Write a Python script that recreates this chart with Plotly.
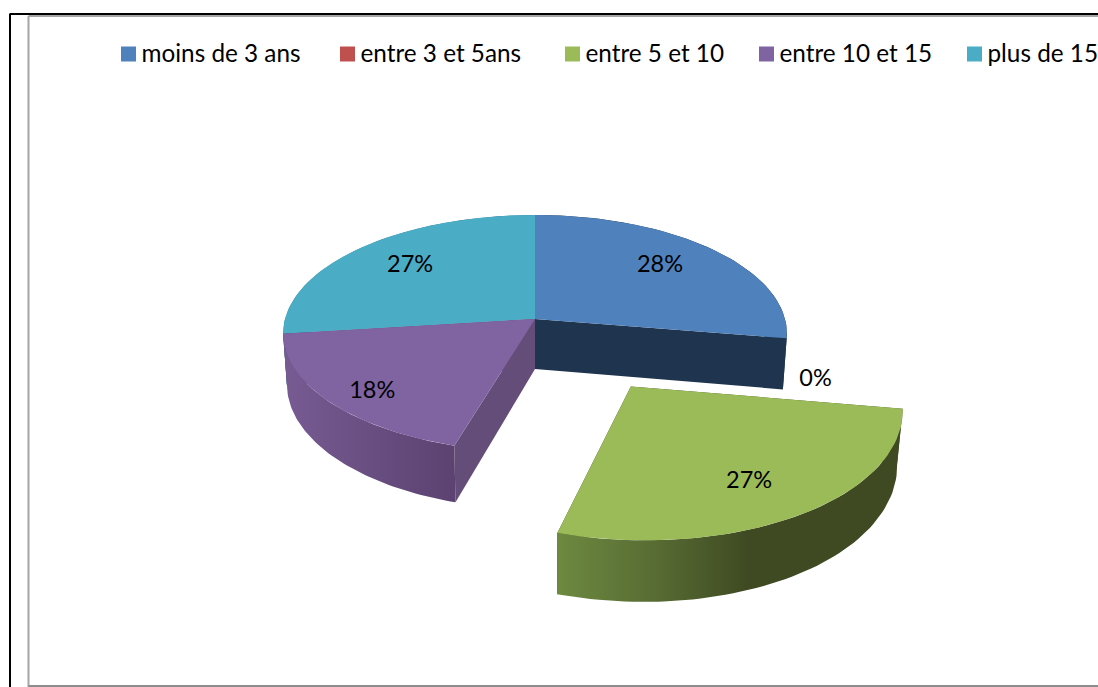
import math

import plotly.graph_objects as go

categories = ['moins de 3 ans', 'entre 3 et 5ans', 'entre 5 et 10', 'entre 10 et 15', 'plus de 15']
values = [27.6, 0, 27, 18.4, 27]

top_colors = ['#4f81bd', '#c0504d', '#9bbb59', '#8064a2', '#4bacc6']
cut_colors = ['#1f344e', '#7a2f2d', '#3f4a22', '#654d7a', '#2f7f96']
wall_scales = [
    [[0, '#1f344e'], [1, '#1f344e']],
    [[0, '#7a2f2d'], [1, '#7a2f2d']],
    [[0, '#6d8a40'], [0.3, '#566a32'], [0.55, '#3f4a22'], [1, '#3f4a22']],
    [[0, '#775b93'], [1, '#5b4270']],
    [[0, '#2f7f96'], [1, '#2f7f96']],
]
explode = [0, 0, 0.648, 0, 0]
explode_tilt = math.radians(-1.5)
draw_order = [0, 4, 3, 2]

# label placement: fraction of the radius, extra shift in px
label_radius = [0.68, 1.12, 0.78, 0.8, 0.68]
label_shift_x = [2, -2, -12, 0, -4]
label_shift_y = [-4, 39, -1, 9, -3]

# legend row
legend_x = [128.5, 347.5, 572.5, 766.5, 974.5]
legend_y = 54
legend_text_dx = 13
legend_text_dy = 2

# pie projection
CX, CY = 535, 319
RX, RY = 250, 116.7
PERSP = 0.122
DEPTH = 50
BOTTOM_SCALE = 0.985
WIDTH, HEIGHT = 1098, 687
FONT = 'Lato, Carlito, Calibri, sans-serif'


def project(theta, r=1.0, off=(0.0, 0.0), depth=0.0, scale=1.0):
    px = r * math.sin(theta) + off[0]
    py = r * math.cos(theta) + off[1]
    w = 1 + PERSP * py
    return CX + RX * scale * px / w, CY - RY * py / w + depth / w


def arc(start, end, off, depth=0.0, scale=1.0):
    steps = 60
    pts = [project(start + (end - start) * i / steps, 1.0, off, depth, scale) for i in range(steps + 1)]
    return [p[0] for p in pts], [p[1] for p in pts]


def polygon(xs, ys, **kwargs):
    xs = list(xs) + [xs[0]]
    ys = list(ys) + [ys[0]]
    return go.Scatter(x=xs, y=ys, mode='lines', fill='toself', line=dict(width=0),
                      hoverinfo='skip', showlegend=False, **kwargs)


total = sum(values)
starts = []
acc = 0
for v in values:
    starts.append(acc / total * 2 * math.pi)
    acc += v
ends = [s + v / total * 2 * math.pi for s, v in zip(starts, values)]
mids = [(s + e) / 2 for s, e in zip(starts, ends)]
offsets = [(d * math.sin(m + explode_tilt), d * math.cos(m + explode_tilt)) for d, m in zip(explode, mids)]

fig = go.Figure()

for i in draw_order:
    s, e, off = starts[i], ends[i], offsets[i]
    tx, ty = arc(s, e, off)
    bx, by = arc(s, e, off, DEPTH, BOTTOM_SCALE)
    cx_top, cy_top = project(0, 0, off)
    cx_bot, cy_bot = project(0, 0, off, DEPTH, BOTTOM_SCALE)

    # cut faces
    for a in (s, e):
        rx_top, ry_top = project(a, 1.0, off)
        rx_bot, ry_bot = project(a, 1.0, off, DEPTH, BOTTOM_SCALE)
        fig.add_trace(polygon([cx_top, rx_top, rx_bot, cx_bot], [cy_top, ry_top, ry_bot, cy_bot],
                              fillcolor=cut_colors[i]))

    # outer wall
    fig.add_trace(polygon(tx + bx[::-1], ty + by[::-1],
                          fillgradient=dict(type='horizontal', colorscale=wall_scales[i])))

    # top face
    fig.add_trace(polygon([cx_top] + tx, [cy_top] + ty, fillcolor=top_colors[i]))

# percent labels
label_pos = [project(m, r, off) for m, r, off in zip(mids, label_radius, offsets)]
fig.add_trace(go.Scatter(
    x=[p[0] + d for p, d in zip(label_pos, label_shift_x)],
    y=[p[1] + d for p, d in zip(label_pos, label_shift_y)],
    mode='text',
    text=[f'{v:.0f}%' for v in values],
    textposition='middle center',
    textfont=dict(family=FONT, size=23.5, color='#000000'),
    hoverinfo='skip',
    showlegend=False,
))

# legend row
fig.add_trace(go.Scatter(
    x=legend_x, y=[legend_y] * len(legend_x), mode='markers',
    marker=dict(symbol='square', size=15, color=top_colors),
    hoverinfo='skip',
    showlegend=False,
))
fig.add_trace(go.Scatter(
    x=[x + legend_text_dx for x in legend_x], y=[legend_y + legend_text_dy] * len(legend_x),
    mode='text',
    text=categories, textposition='middle right',
    textfont=dict(family=FONT, size=24.3, color='#000000'),
    cliponaxis=False,
    hoverinfo='skip',
    showlegend=False,
))

frame = [
    (9.5, 14, WIDTH, 14, '#000000', 2),
    (10, 14, 10, HEIGHT, '#000000', 2),
    (28.5, 16, WIDTH, 16, '#a6a6a6', 2),
    (28.5, 16, 28.5, HEIGHT, '#a6a6a6', 2),
    (28.5, 686, WIDTH, 686, '#8c8c8c', 2),
]
for x0, y0, x1, y1, color, width in frame:
    fig.add_shape(type='line', x0=x0, y0=y0, x1=x1, y1=y1, xref='x', yref='y',
                  line=dict(color=color, width=width), layer='below')

fig.update_layout(
    width=WIDTH,
    height=HEIGHT,
    margin=dict(l=0, r=0, t=0, b=0),
    paper_bgcolor='white',
    plot_bgcolor='white',
    xaxis=dict(range=[0, WIDTH], visible=False),
    yaxis=dict(range=[HEIGHT, 0], visible=False),
)

fig.write_html("out.html", config={'displayModeBar': False},
               post_script="document.body.style.margin = '0';")
